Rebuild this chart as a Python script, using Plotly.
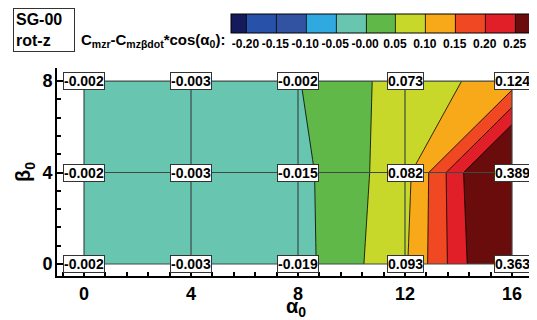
import plotly.graph_objects as go

# ---- data ----
alpha = [0, 4, 8, 12, 16]
beta = [0, 4, 8]
# rows: beta = 0, 4, 8
values = [
    [-0.002, -0.003, -0.019, 0.093, 0.363],
    [-0.002, -0.003, -0.015, 0.082, 0.389],
    [-0.002, -0.003, -0.002, 0.073, 0.124],
]
levels_start, levels_end, levels_step = -0.20, 0.25, 0.05
tick_vals = [-0.20, -0.15, -0.10, -0.05, 0.0, 0.05, 0.10, 0.15, 0.20, 0.25]
tick_text = ["-0.20", "-0.15", "-0.10", "-0.05", "-0.00", "0.05", "0.10", "0.15", "0.20", "0.25"]
band_colors = ["#141a5c", "#2851aa", "#3252a2", "#30a8e0", "#68c5b0", "#60b848",
               "#c8d82a", "#f8a91a", "#f04822", "#e01f28", "#6a0c0c"]

FONT = "Liberation Sans"

n = len(band_colors)
cscale = []
for i, c in enumerate(band_colors):
    cscale.append([i / n, c])
    cscale.append([(i + 1) / n, c])

fig = go.Figure()
fig.add_trace(go.Contour(
    x=alpha, y=beta, z=values,
    autocontour=False,
    contours=dict(start=levels_start, end=levels_end, size=levels_step,
                  coloring="fill", showlines=True),
    line=dict(color="black", width=0.8, smoothing=0),
    colorscale=cscale,
    zmin=levels_start - levels_step / 2, zmax=levels_end + levels_step / 2,
    colorbar=dict(
        orientation="h", lenmode="pixels", len=299, thickness=19,
        x=0.363, xanchor="left", y=1.26, yanchor="top", xpad=0, ypad=0,
        outlinewidth=1, outlinecolor="black",
        tickvals=tick_vals, ticktext=tick_text, ticks="",
        tickfont=dict(family=FONT, size=12, color="black", weight="bold"),
    ),
    hoverinfo="skip",
))

# mesh lines
for b in beta:
    fig.add_trace(go.Scatter(x=alpha, y=[b] * len(alpha), mode="lines",
                             line=dict(color="#3c4a46", width=1.2),
                             showlegend=False, hoverinfo="skip"))
for a in alpha:
    fig.add_trace(go.Scatter(x=[a] * len(beta), y=beta, mode="lines",
                             line=dict(color="#3c4a46", width=1.2),
                             showlegend=False, hoverinfo="skip"))

# value labels
for j, b in enumerate(beta):
    for i, a in enumerate(alpha):
        fig.add_annotation(x=a, y=b, text=f"{values[j][i]:.3f}", showarrow=False,
                           font=dict(family=FONT, size=14, color="black", weight="bold"),
                           bgcolor="white", bordercolor="#333333", borderwidth=1, borderpad=0)

# title box
fig.add_annotation(xref="paper", yref="paper", x=-0.092, y=1.288, xanchor="left", yanchor="top",
                   text="SG-00<br>rot-z", showarrow=False, align="left",
                   width=56, height=38, borderpad=2,
                   font=dict(family=FONT, size=16, color="black", weight="bold"),
                   bordercolor="#333333", borderwidth=1, bgcolor="white")
# legend label
fig.add_annotation(xref="paper", yref="paper", x=0.046, y=1.13, xanchor="left", yanchor="middle",
                   text="C<sub>mzr</sub>-C<sub>mzβdot</sub>*cos(α<sub>0</sub>):", showarrow=False,
                   font=dict(family=FONT, size=15, color="black", weight="bold"))

axis_font = dict(family=FONT, size=18, color="black", weight="bold")
# the page body adds an 8px offset; the figure is sized so the plot lands where the reference has it
fig.update_layout(
    width=529, height=312,
    margin=dict(l=49, r=2, t=60, b=44, autoexpand=False),
    paper_bgcolor="white", plot_bgcolor="white",
    showlegend=False,
    xaxis=dict(range=[-1.01, 16.86], tickvals=alpha, ticks="inside", ticklen=7, tickwidth=1.5,
               tickcolor="black", showline=True, linecolor="black", linewidth=2,
               showgrid=False, zeroline=False, tickfont=axis_font, automargin=False,
               minor=dict(dtick=0.8, tick0=0, ticks="inside", ticklen=4, tickcolor="black", showgrid=False),
               title=dict(text="α<sub>0</sub>", font=dict(family=FONT, size=20, color="black", weight="bold"),
                          standoff=2)),
    yaxis=dict(range=[-0.525, 8.57], tickvals=beta, ticks="inside", ticklen=7, tickwidth=1.5,
               tickcolor="black", showline=True, linecolor="black", linewidth=2,
               showgrid=False, zeroline=False, tickfont=axis_font, automargin=False,
               ticklabelstandoff=-1,
               minor=dict(dtick=0.8, tick0=0, ticks="inside", ticklen=4, tickcolor="black", showgrid=False),
               title=dict(text="β<sub>0</sub>", font=dict(family=FONT, size=20, color="black", weight="bold"),
                          standoff=6)),
)

fig.write_html("out.html")
